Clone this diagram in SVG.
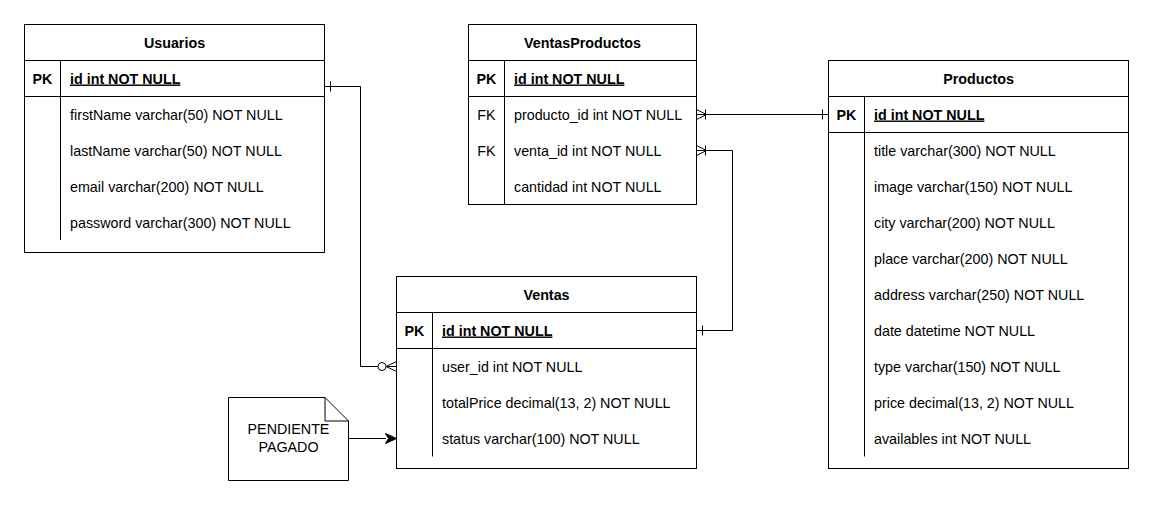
<svg xmlns="http://www.w3.org/2000/svg" width="1154" height="506" viewBox="0 0 1154 506">
<style>
.box{fill:#fff;stroke:#000;stroke-width:1}
.ln{fill:none;stroke:#000;stroke-width:1}
text{font-family:"Liberation Sans",Arial,Helvetica,sans-serif;font-size:14.3px;fill:#000}
.h{font-weight:bold;text-anchor:middle}
.k{font-weight:bold;text-anchor:middle}
.f{text-anchor:middle}
.pk{font-weight:bold;text-decoration:underline}
.c{text-anchor:middle}
</style>
<rect width="1154" height="506" fill="#fff"/>

<g id="usuarios">
<rect class="box" x="24.5" y="24.5" width="300" height="228"/>
<path class="ln" d="M24.5,60.5H324.5M24.5,96.5H324.5M60.5,60.5V240"/>
<text class="h" x="174.5" y="47.5">Usuarios</text>
<text class="k" x="42.5" y="83.5">PK</text>
<text class="pk" x="70" y="83.5">id int NOT NULL</text>
<text x="70" y="119.5">firstName varchar(50) NOT NULL</text>
<text x="70" y="155.5">lastName varchar(50) NOT NULL</text>
<text x="70" y="191.5">email varchar(200) NOT NULL</text>
<text x="70" y="227.5">password varchar(300) NOT NULL</text>
</g>

<g id="ventasproductos">
<rect class="box" x="468.5" y="24.5" width="228" height="180"/>
<path class="ln" d="M468.5,60.5H696.5M468.5,96.5H696.5M504.5,60.5V204.5"/>
<text class="h" x="582.5" y="47.5">VentasProductos</text>
<text class="k" x="486.5" y="83.5">PK</text>
<text class="pk" x="514" y="83.5">id int NOT NULL</text>
<text class="f" x="486.5" y="119.5">FK</text>
<text x="514" y="119.5">producto_id int NOT NULL</text>
<text class="f" x="486.5" y="155.5">FK</text>
<text x="514" y="155.5">venta_id int NOT NULL</text>
<text x="514" y="191.5">cantidad int NOT NULL</text>
</g>

<g id="productos">
<rect class="box" x="828.5" y="60.5" width="300" height="408"/>
<path class="ln" d="M828.5,96.5H1128.5M828.5,132.5H1128.5M864.5,96.5V456.5"/>
<text class="h" x="978.5" y="83.5">Productos</text>
<text class="k" x="846.5" y="119.5">PK</text>
<text class="pk" x="874" y="119.5">id int NOT NULL</text>
<text x="874" y="155.5">title varchar(300) NOT NULL</text>
<text x="874" y="191.5">image varchar(150) NOT NULL</text>
<text x="874" y="227.5">city varchar(200) NOT NULL</text>
<text x="874" y="263.5">place varchar(200) NOT NULL</text>
<text x="874" y="299.5">address varchar(250) NOT NULL</text>
<text x="874" y="335.5">date datetime NOT NULL</text>
<text x="874" y="371.5">type varchar(150) NOT NULL</text>
<text x="874" y="407.5">price decimal(13, 2) NOT NULL</text>
<text x="874" y="443.5">availables int NOT NULL</text>
</g>

<g id="ventas">
<rect class="box" x="396.5" y="276.5" width="300" height="192"/>
<path class="ln" d="M396.5,312.5H696.5M396.5,348.5H696.5M432.5,312.5V456.5"/>
<text class="h" x="546.5" y="299.5">Ventas</text>
<text class="k" x="414.5" y="335.5">PK</text>
<text class="pk" x="442" y="335.5">id int NOT NULL</text>
<text x="442" y="371.5">user_id int NOT NULL</text>
<text x="442" y="407.5">totalPrice decimal(13, 2) NOT NULL</text>
<text x="442" y="443.5">status varchar(100) NOT NULL</text>
</g>

<g id="nota">
<path class="box" d="M228.5,397.5H325L348.5,421V480.5H228.5Z"/>
<path class="ln" d="M325,397.5V421H348.5"/>
<text class="c" x="288.5" y="434">PENDIENTE</text>
<text class="c" x="288.5" y="452">PAGADO</text>
</g>

<g id="connectors">
<path class="ln" d="M324.5,86.5H360.5V366.5H396.5"/>
<path class="ln" d="M330.5,81.5V91.5"/>
<circle cx="382" cy="366.5" r="4" fill="#fff" stroke="#000" stroke-width="1"/>
<path class="ln" d="M396.5,361.5L386,366.5L396.5,371.5"/>
<path class="ln" d="M696.5,114.5H828.5"/>
<path class="ln" d="M696.5,109.5L706.5,114.5L696.5,119.5M705.5,109.5V119.5"/>
<path class="ln" d="M822.5,109.5V119.5"/>
<path class="ln" d="M696.5,150.5H732.5V330.5H696.5"/>
<path class="ln" d="M696.5,145.5L706.5,150.5L696.5,155.5M705.5,145.5V155.5"/>
<path class="ln" d="M702.5,325.5V335.5"/>
<path class="ln" d="M348.5,438.5H386"/>
<path d="M396.5,438.5L385.5,433.5L388.5,438.5L385.5,443.5Z" fill="#000" stroke="#000" stroke-width="1"/>
</g>
</svg>
